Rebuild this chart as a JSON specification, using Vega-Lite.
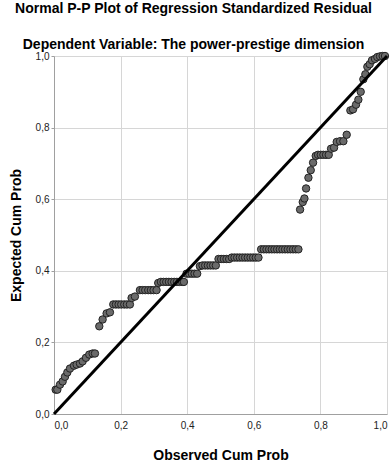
{
  "$schema": "https://vega.github.io/schema/vega-lite/v6.json",
  "width": 333,
  "height": 358,
  "autosize": {"type": "none"},
  "padding": {"left": 54, "top": 56, "right": 3, "bottom": 49},
  "background": "white",
  "title": {
    "text": "Normal P-P Plot of Regression Standardized Residual",
    "subtitle": "Dependent Variable: The power-prestige dimension",
    "font": "Liberation Sans",
    "fontSize": 14,
    "fontWeight": "bold",
    "color": "#000000",
    "subtitleFont": "Liberation Sans",
    "subtitleFontSize": 14,
    "subtitleFontWeight": "bold",
    "subtitleColor": "#000000",
    "subtitlePadding": 22,
    "anchor": "middle",
    "dx": -27,
    "offset": -2
  },
  "config": {
    "view": {"stroke": null},
    "axis": {
      "labelFont": "Liberation Sans",
      "labelFontSize": 10,
      "labelColor": "#222222",
      "titleFont": "Liberation Sans",
      "titleFontSize": 14,
      "titleFontWeight": "bold",
      "titleColor": "#000000",
      "gridColor": "#d6d6d6",
      "gridWidth": 1,
      "domainColor": "#a0a0a0",
      "tickColor": "#a0a0a0",
      "tickSize": 3
    }
  },
  "layer": [
    {
      "data": {
        "values": [
          {"obs": 0.005, "exp": 0.068}, {"obs": 0.010, "exp": 0.068}, {"obs": 0.018, "exp": 0.082},
          {"obs": 0.026, "exp": 0.091}, {"obs": 0.033, "exp": 0.104}, {"obs": 0.040, "exp": 0.116},
          {"obs": 0.048, "exp": 0.127}, {"obs": 0.060, "exp": 0.135}, {"obs": 0.068, "exp": 0.138},
          {"obs": 0.078, "exp": 0.141}, {"obs": 0.086, "exp": 0.147}, {"obs": 0.096, "exp": 0.157},
          {"obs": 0.106, "exp": 0.166}, {"obs": 0.116, "exp": 0.169}, {"obs": 0.123, "exp": 0.169},
          {"obs": 0.136, "exp": 0.245}, {"obs": 0.146, "exp": 0.264}, {"obs": 0.158, "exp": 0.281},
          {"obs": 0.168, "exp": 0.284},
          {"obs": 0.178, "exp": 0.306}, {"obs": 0.186, "exp": 0.306}, {"obs": 0.194, "exp": 0.306},
          {"obs": 0.202, "exp": 0.306}, {"obs": 0.211, "exp": 0.306}, {"obs": 0.219, "exp": 0.306},
          {"obs": 0.228, "exp": 0.306},
          {"obs": 0.233, "exp": 0.324}, {"obs": 0.243, "exp": 0.328},
          {"obs": 0.258, "exp": 0.346}, {"obs": 0.266, "exp": 0.346}, {"obs": 0.274, "exp": 0.346},
          {"obs": 0.283, "exp": 0.346}, {"obs": 0.291, "exp": 0.346}, {"obs": 0.299, "exp": 0.346},
          {"obs": 0.308, "exp": 0.346},
          {"obs": 0.313, "exp": 0.366},
          {"obs": 0.321, "exp": 0.369}, {"obs": 0.329, "exp": 0.369}, {"obs": 0.337, "exp": 0.369},
          {"obs": 0.345, "exp": 0.369}, {"obs": 0.353, "exp": 0.369}, {"obs": 0.361, "exp": 0.369},
          {"obs": 0.369, "exp": 0.369}, {"obs": 0.377, "exp": 0.369}, {"obs": 0.385, "exp": 0.369},
          {"obs": 0.390, "exp": 0.369},
          {"obs": 0.398, "exp": 0.392}, {"obs": 0.406, "exp": 0.392}, {"obs": 0.414, "exp": 0.392},
          {"obs": 0.422, "exp": 0.392}, {"obs": 0.430, "exp": 0.392},
          {"obs": 0.438, "exp": 0.413},
          {"obs": 0.446, "exp": 0.415}, {"obs": 0.454, "exp": 0.415}, {"obs": 0.462, "exp": 0.415},
          {"obs": 0.470, "exp": 0.415}, {"obs": 0.478, "exp": 0.415}, {"obs": 0.486, "exp": 0.415},
          {"obs": 0.494, "exp": 0.433}, {"obs": 0.502, "exp": 0.433}, {"obs": 0.510, "exp": 0.433},
          {"obs": 0.518, "exp": 0.433}, {"obs": 0.526, "exp": 0.433},
          {"obs": 0.534, "exp": 0.437}, {"obs": 0.542, "exp": 0.437}, {"obs": 0.550, "exp": 0.437},
          {"obs": 0.558, "exp": 0.437}, {"obs": 0.566, "exp": 0.437}, {"obs": 0.574, "exp": 0.437},
          {"obs": 0.582, "exp": 0.437}, {"obs": 0.590, "exp": 0.437}, {"obs": 0.598, "exp": 0.437},
          {"obs": 0.606, "exp": 0.437}, {"obs": 0.614, "exp": 0.437},
          {"obs": 0.622, "exp": 0.460}, {"obs": 0.630, "exp": 0.460}, {"obs": 0.638, "exp": 0.460},
          {"obs": 0.646, "exp": 0.460}, {"obs": 0.654, "exp": 0.460}, {"obs": 0.662, "exp": 0.460},
          {"obs": 0.670, "exp": 0.460}, {"obs": 0.678, "exp": 0.460}, {"obs": 0.686, "exp": 0.460},
          {"obs": 0.694, "exp": 0.460}, {"obs": 0.702, "exp": 0.460}, {"obs": 0.710, "exp": 0.460},
          {"obs": 0.718, "exp": 0.460}, {"obs": 0.726, "exp": 0.460}, {"obs": 0.734, "exp": 0.460},
          {"obs": 0.739, "exp": 0.571}, {"obs": 0.747, "exp": 0.592}, {"obs": 0.752, "exp": 0.602},
          {"obs": 0.757, "exp": 0.630}, {"obs": 0.764, "exp": 0.660}, {"obs": 0.771, "exp": 0.681},
          {"obs": 0.778, "exp": 0.702}, {"obs": 0.786, "exp": 0.721},
          {"obs": 0.793, "exp": 0.724}, {"obs": 0.801, "exp": 0.724}, {"obs": 0.809, "exp": 0.724},
          {"obs": 0.817, "exp": 0.724}, {"obs": 0.825, "exp": 0.724},
          {"obs": 0.832, "exp": 0.741}, {"obs": 0.841, "exp": 0.744}, {"obs": 0.849, "exp": 0.760},
          {"obs": 0.859, "exp": 0.762}, {"obs": 0.869, "exp": 0.762}, {"obs": 0.879, "exp": 0.780},
          {"obs": 0.890, "exp": 0.848}, {"obs": 0.898, "exp": 0.851}, {"obs": 0.907, "exp": 0.864},
          {"obs": 0.914, "exp": 0.878}, {"obs": 0.921, "exp": 0.900}, {"obs": 0.929, "exp": 0.935},
          {"obs": 0.935, "exp": 0.949}, {"obs": 0.941, "exp": 0.970}, {"obs": 0.948, "exp": 0.977},
          {"obs": 0.955, "exp": 0.988}, {"obs": 0.964, "exp": 0.992}, {"obs": 0.971, "exp": 0.997},
          {"obs": 0.979, "exp": 0.999}, {"obs": 0.987, "exp": 1.0}, {"obs": 0.994, "exp": 1.0}
        ]
      },
      "mark": {"type": "point", "shape": "circle", "filled": true, "fill": "#6a6a6a", "stroke": "#222222", "strokeWidth": 1, "size": 55, "opacity": 1, "clip": false},
      "encoding": {
        "x": {
          "field": "obs", "type": "quantitative",
          "scale": {"domain": [0, 1], "nice": false},
          "axis": {"title": "Observed Cum Prob", "values": [0, 0.2, 0.4, 0.6, 0.8, 1.0], "labelExpr": "replace(format(datum.value, '.1f'), '.', ',')", "titlePadding": 18, "labelPadding": 6, "ticks": false}
        },
        "y": {
          "field": "exp", "type": "quantitative",
          "scale": {"domain": [0, 1], "nice": false},
          "axis": {"title": "Expected Cum Prob", "values": [0, 0.2, 0.4, 0.6, 0.8, 1.0], "labelExpr": "replace(format(datum.value, '.1f'), '.', ',')", "titlePadding": 12, "labelPadding": 2}
        }
      }
    },
    {
      "data": {"values": [{"obs": 0, "exp": 0}, {"obs": 1, "exp": 1}]},
      "mark": {"type": "line", "color": "#000000", "strokeWidth": 3, "clip": false},
      "encoding": {
        "x": {"field": "obs", "type": "quantitative"},
        "y": {"field": "exp", "type": "quantitative"}
      }
    }
  ]
}
